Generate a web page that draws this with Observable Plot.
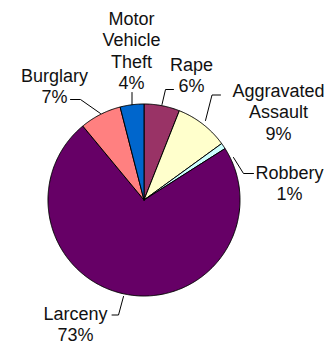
<!DOCTYPE html>
<html><head><meta charset="utf-8">
<script src="https://cdn.jsdelivr.net/npm/d3@7"></script>
<script src="https://cdn.jsdelivr.net/npm/@observablehq/plot@0.6"></script>
<style>html,body{margin:0;padding:0;background:#fff}</style>
</head><body><div id="chart"></div>
<script>
// ---- data ----
const categories = ["Rape", "Aggravated Assault", "Robbery", "Larceny", "Burglary", "Motor Vehicle Theft"];
const values = [6, 9, 1, 73, 7, 4];
const labelText = ["Rape\n6%", "Aggravated\nAssault\n9%", "Robbery\n1%", "Larceny\n73%", "Burglary\n7%", "Motor\nVehicle\nTheft\n4%"];
const colors = ["#993366", "#FFFFCC", "#CCFFFF", "#660066", "#FF8080", "#0066CC"];

// ---- layout (pixels) ----
const W = 324, H = 343, CX = 143.5, CY = 199.5, R = 96;
const FS = 18, LH = 1.19;
const labelAt = [[191, 68], [278, 94], [289, 176], [75, 317], [54, 79], [131, 22]]; // centre x, first baseline
const leaders = [
  [[161.5, 104], [165, 89], [173, 89]],
  [[205, 120], [211.5, 94.5], [220, 94.5]],
  [[233, 157], [243, 173], [253, 173]],
  [[123, 296], [118, 314.5], [111.5, 314.5]],
  [[100, 113], [80, 99], [70, 99]],
  [[131.5, 104], [131.5, 92]]
];

const ux = px => (px - CX) / R;
const uy = py => (CY - py) / R;

// slice geometry from d3.pie (clockwise from 12 o'clock)
const arcs = d3.pie().sort(null).startAngle(0).endAngle(2 * Math.PI)(values);
const slices = arcs.map((a, i) => {
  const n = Math.max(4, Math.ceil((a.endAngle - a.startAngle) / 0.01));
  const pts = [{x: 0, y: 0}];
  for (let k = 0; k <= n; ++k) {
    const t = a.startAngle + (a.endAngle - a.startAngle) * k / n;
    pts.push({x: Math.sin(t), y: Math.cos(t)});
  }
  pts.push({x: 0, y: 0});
  return pts;
});

const textData = categories.map((c, i) => ({
  x: ux(labelAt[i][0]),
  y: uy(labelAt[i][1] - 0.71 * FS),
  text: labelText[i]
}));

const leaderData = leaders.flatMap((pts, i) => pts.map(p => ({x: ux(p[0]), y: uy(p[1]), k: i})));

const chart = Plot.plot({
  width: W, height: H,
  margin: 0,
  style: {background: "#fff", overflow: "visible"},
  x: {domain: [-1, 1], range: [CX - R, CX + R], axis: null},
  y: {domain: [-1, 1], range: [CY + R, CY - R], axis: null},
  marks: [
    ...slices.map((pts, i) => Plot.line(pts, {x: "x", y: "y", fill: colors[i], stroke: "#000", strokeWidth: 1, strokeLinejoin: "round"})),
    Plot.line(leaderData, {x: "x", y: "y", z: "k", stroke: "#000", strokeWidth: 1}),
    Plot.text(textData, {x: "x", y: "y", text: "text", textAnchor: "middle", lineAnchor: "top", lineHeight: LH,
      fontSize: FS, fontFamily: "Liberation Sans, Arial, sans-serif", fill: "#111"})
  ]
});
document.getElementById("chart").appendChild(chart);
</script>
</body></html>
